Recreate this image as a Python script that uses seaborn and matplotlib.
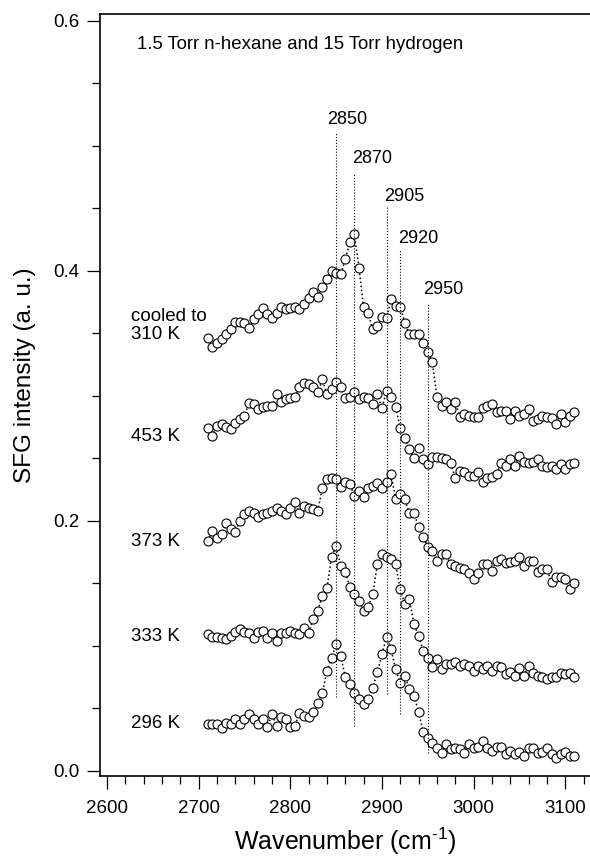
import numpy as np
import pandas as pd
import seaborn as sns
import matplotlib
matplotlib.use("Agg")
import matplotlib.pyplot as plt
from matplotlib.ticker import MultipleLocator, FormatStrFormatter

# scan grid (cm-1)
wavenumber = [2710, 2715, 2720, 2725, 2730, 2735, 2740, 2745, 2750, 2755,
              2760, 2765, 2770, 2775, 2780, 2785, 2790, 2795, 2800, 2805,
              2810, 2815, 2820, 2825, 2830, 2835, 2840, 2845, 2850, 2855,
              2860, 2865, 2870, 2875, 2880, 2885, 2890, 2895, 2900, 2905,
              2910, 2915, 2920, 2925, 2930, 2935, 2940, 2945, 2950, 2955,
              2960, 2965, 2970, 2975, 2980, 2985, 2990, 2995, 3000, 3005,
              3010, 3015, 3020, 3025, 3030, 3035, 3040, 3045, 3050, 3055,
              3060, 3065, 3070, 3075, 3080, 3085, 3090, 3095, 3100, 3105,
              3110]

sfg_310 = [0.346, 0.339, 0.342, 0.345, 0.349, 0.353, 0.359, 0.359, 0.358, 0.354,
           0.361, 0.365, 0.370, 0.365, 0.362, 0.366, 0.371, 0.369, 0.370, 0.371,
           0.369, 0.373, 0.378, 0.383, 0.379, 0.387, 0.393, 0.400, 0.398, 0.397,
           0.409, 0.423, 0.429, 0.402, 0.371, 0.366, 0.353, 0.356, 0.363, 0.362,
           0.377, 0.372, 0.371, 0.358, 0.349, 0.349, 0.349, 0.342, 0.335, 0.327,
           0.299, 0.292, 0.295, 0.289, 0.295, 0.283, 0.285, 0.284, 0.283, 0.283,
           0.290, 0.292, 0.293, 0.287, 0.288, 0.288, 0.281, 0.288, 0.284, 0.285,
           0.289, 0.280, 0.281, 0.284, 0.283, 0.282, 0.277, 0.285, 0.279, 0.284,
           0.287]

sfg_453 = [0.274, 0.268, 0.276, 0.277, 0.275, 0.273, 0.278, 0.281, 0.284, 0.294,
           0.293, 0.289, 0.291, 0.292, 0.292, 0.301, 0.295, 0.297, 0.298, 0.299,
           0.307, 0.310, 0.309, 0.307, 0.303, 0.313, 0.301, 0.305, 0.311, 0.307,
           0.298, 0.299, 0.303, 0.297, 0.299, 0.298, 0.293, 0.301, 0.290, 0.304,
           0.299, 0.291, 0.274, 0.266, 0.257, 0.250, 0.258, 0.249, 0.245, 0.251,
           0.251, 0.250, 0.249, 0.246, 0.234, 0.240, 0.239, 0.236, 0.236, 0.239,
           0.231, 0.234, 0.235, 0.237, 0.246, 0.244, 0.249, 0.244, 0.252, 0.247,
           0.246, 0.247, 0.249, 0.244, 0.243, 0.244, 0.241, 0.245, 0.241, 0.245,
           0.246]

sfg_373 = [0.184, 0.192, 0.186, 0.189, 0.198, 0.193, 0.191, 0.200, 0.205, 0.208,
           0.206, 0.203, 0.205, 0.206, 0.208, 0.210, 0.208, 0.205, 0.210, 0.215,
           0.206, 0.212, 0.210, 0.209, 0.208, 0.226, 0.233, 0.234, 0.233, 0.227,
           0.231, 0.229, 0.220, 0.224, 0.219, 0.226, 0.228, 0.230, 0.226, 0.231,
           0.237, 0.217, 0.221, 0.217, 0.206, 0.206, 0.195, 0.187, 0.179, 0.176,
           0.168, 0.173, 0.173, 0.165, 0.164, 0.162, 0.161, 0.158, 0.153, 0.158,
           0.165, 0.165, 0.160, 0.168, 0.169, 0.166, 0.167, 0.168, 0.171, 0.164,
           0.168, 0.168, 0.159, 0.161, 0.161, 0.151, 0.155, 0.155, 0.153, 0.145,
           0.150]

sfg_333 = [0.109, 0.107, 0.107, 0.106, 0.105, 0.108, 0.111, 0.113, 0.111, 0.110,
           0.106, 0.111, 0.112, 0.106, 0.110, 0.104, 0.110, 0.110, 0.112, 0.110,
           0.109, 0.114, 0.110, 0.121, 0.128, 0.140, 0.146, 0.171, 0.180, 0.164,
           0.159, 0.147, 0.141, 0.136, 0.128, 0.131, 0.141, 0.165, 0.173, 0.171,
           0.169, 0.165, 0.145, 0.133, 0.137, 0.117, 0.108, 0.096, 0.090, 0.083,
           0.089, 0.081, 0.085, 0.085, 0.087, 0.084, 0.085, 0.084, 0.080, 0.084,
           0.081, 0.084, 0.080, 0.084, 0.083, 0.077, 0.079, 0.076, 0.082, 0.076,
           0.084, 0.078, 0.076, 0.075, 0.073, 0.075, 0.075, 0.078, 0.077, 0.078,
           0.075]

sfg_296 = [0.037, 0.037, 0.037, 0.034, 0.038, 0.037, 0.041, 0.037, 0.041, 0.045,
           0.041, 0.037, 0.041, 0.035, 0.045, 0.036, 0.043, 0.041, 0.035, 0.036,
           0.046, 0.044, 0.043, 0.047, 0.054, 0.062, 0.080, 0.090, 0.101, 0.092,
           0.075, 0.069, 0.062, 0.057, 0.053, 0.057, 0.066, 0.079, 0.093, 0.107,
           0.097, 0.081, 0.070, 0.076, 0.065, 0.060, 0.047, 0.031, 0.026, 0.022,
           0.018, 0.014, 0.021, 0.017, 0.018, 0.017, 0.014, 0.021, 0.018, 0.019,
           0.024, 0.018, 0.016, 0.019, 0.019, 0.013, 0.016, 0.013, 0.015, 0.012,
           0.018, 0.018, 0.014, 0.015, 0.018, 0.013, 0.010, 0.013, 0.015, 0.012,
           0.012]

# labels written next to each spectrum
temp_labels = ["cooled to\n310 K", "453 K", "373 K", "333 K", "296 K"]
temp_label_y = [0.356, 0.267, 0.183, 0.107, 0.038]

# peak assignments (dotted guide lines)
peak_pos = [2850, 2870, 2905, 2920, 2950]
peak_top = [0.511, 0.478, 0.451, 0.417, 0.373]
peak_bottom = [0.059, 0.036, 0.061, 0.045, 0.014]
peak_text = ["2850", "2870", "2905", "2920", "2950"]
peak_text_x = [2840.5, 2867, 2902.5, 2918, 2945]
peak_text_y = [0.521, 0.490, 0.459, 0.426, 0.385]

df = pd.concat([
    pd.DataFrame({"wavenumber": wavenumber, "sfg": vals, "sample": name})
    for name, vals in [("310", sfg_310), ("453", sfg_453), ("373", sfg_373),
                       ("333", sfg_333), ("296", sfg_296)]
])

sns.set_style("ticks")
plt.rcParams["font.family"] = ["Liberation Sans", "DejaVu Sans"]
plt.rcParams["mathtext.fontset"] = "custom"
plt.rcParams["mathtext.rm"] = "Liberation Sans"
for key in ["text.color", "axes.labelcolor", "xtick.color", "ytick.color",
            "axes.edgecolor"]:
    plt.rcParams[key] = "black"

fig = plt.figure(figsize=(5.9, 8.57), dpi=100)
ax = fig.add_axes([100 / 590, 1 - 775.7 / 857, 490 / 590, 761.7 / 857])

for name, grp in df.groupby("sample", sort=False):
    sns.lineplot(data=grp, x="wavenumber", y="sfg", ax=ax, color="black",
                 linestyle=":", linewidth=1.1, marker="o", markersize=6.5,
                 markerfacecolor="white", markeredgecolor="black",
                 markeredgewidth=0.8, zorder=2)

ax.vlines(peak_pos, peak_bottom, peak_top, colors="black",
          linestyles=":", linewidth=0.8, zorder=3)
for px, py, t in zip(peak_text_x, peak_text_y, peak_text):
    ax.text(px, py, t, ha="left", va="center", fontsize=13)

for t, y in zip(temp_labels, temp_label_y):
    ax.text(2626, y, t, ha="left", va="center", fontsize=13.5, linespacing=1.1)

ax.text(2633, 0.581, "1.5 Torr n-hexane and 15 Torr hydrogen",
        ha="left", va="center", fontsize=13.4)

ax.set_xlim(2592.4, 3127)
ax.set_ylim(-0.004, 0.6054)
ax.xaxis.set_major_locator(MultipleLocator(100))
ax.xaxis.set_minor_locator(MultipleLocator(20))
ax.yaxis.set_major_locator(MultipleLocator(0.2))
ax.yaxis.set_minor_locator(MultipleLocator(0.05))
ax.yaxis.set_major_formatter(FormatStrFormatter("%.1f"))
ax.tick_params(which="major", direction="out", length=9.5, width=0.9,
               labelsize=13.5, color="black", labelcolor="black")
ax.tick_params(which="minor", direction="out", length=5.5, width=0.9, color="black")
ax.tick_params(axis="x", which="major", pad=8)
ax.tick_params(axis="y", which="major", pad=5)

for side in ["left", "bottom", "top"]:
    ax.spines[side].set_linewidth(1.2)
    ax.spines[side].set_color("black")
ax.spines["right"].set_visible(False)

ax.set_xlabel(r"Wavenumber (cm$^{\text{-1}}$)", fontsize=18, labelpad=6)
ax.set_ylabel("SFG intensity (a. u.)", fontsize=17.5, labelpad=13)
ax.yaxis.label.set_y(0.526)

fig.savefig("out.png", dpi=100)
